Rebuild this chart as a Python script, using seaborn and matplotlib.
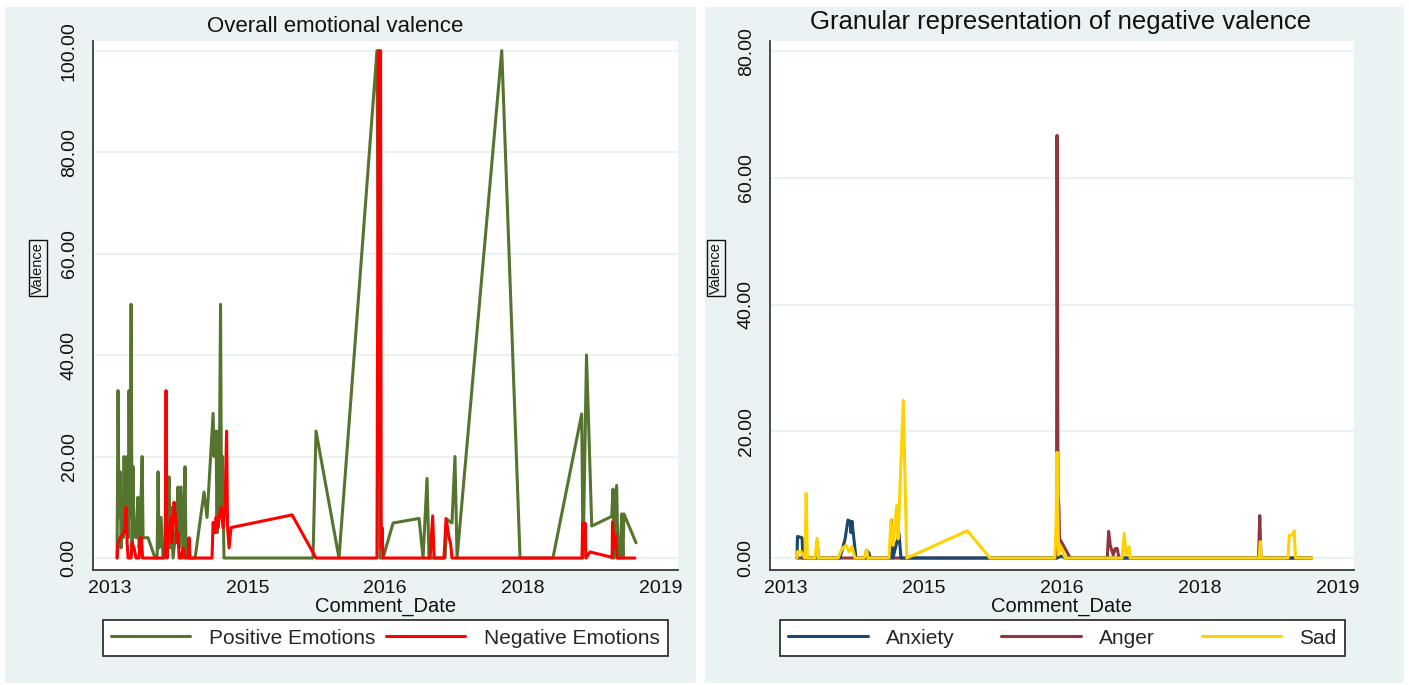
import numpy as np
import pandas as pd
import matplotlib
matplotlib.use("Agg")
import matplotlib.pyplot as plt
import seaborn as sns
from matplotlib.lines import Line2D
from matplotlib.patches import Rectangle

# ---------------- data ----------------
tick_pos = [0, 1, 2, 3, 4]
tick_labels = ["2013", "2015", "2016", "2018", "2019"]

# Left panel: Overall emotional valence
pos_date = [0.051, 0.058, 0.065, 0.073, 0.080, 0.087, 0.094, 0.102, 0.109, 0.124, 0.131, 0.138,
            0.145, 0.153, 0.160, 0.167, 0.174, 0.189, 0.203, 0.211, 0.218, 0.233, 0.240, 0.276,
            0.327, 0.342, 0.349, 0.356, 0.371, 0.385, 0.414, 0.429, 0.436, 0.443, 0.458, 0.480,
            0.494, 0.502, 0.516, 0.531, 0.545, 0.552, 0.574, 0.618, 0.683, 0.705, 0.749, 0.756,
            0.770, 0.778, 0.785, 0.792, 0.803, 0.810, 0.818, 0.828, 1.475, 1.497, 1.664, 1.940,
            1.962, 1.984, 2.057, 2.246, 2.275, 2.304, 2.318, 2.435, 2.449, 2.485, 2.507, 2.522,
            2.847, 2.980, 3.219, 3.428, 3.438, 3.463, 3.501, 3.646, 3.656, 3.663, 3.682, 3.692,
            3.706, 3.719, 3.728, 3.735, 3.823]
pos_val = [0, 33, 8, 17, 2, 9, 4, 20, 6, 20, 4, 33,
           8, 50, 2, 18, 5, 4, 12, 2, 4, 20, 4, 4,
           0, 0, 17, 2, 8, 0, 6, 16, 2, 10, 0, 6,
           14, 2, 14, 0, 18, 1, 0, 0, 13, 8, 28.5, 20,
           25, 5, 25, 8, 50, 10, 20, 0, 0, 25, 0, 100,
           0, 0, 6.9, 7.8, 0, 15.7, 0, 0, 7.6, 6.9, 20, 0,
           100, 0, 0, 28.4, 0, 40, 6.3, 8.2, 13.6, 0, 14.3, 0,
           0, 8.7, 0, 8.7, 3]

neg_date = [0.051, 0.058, 0.073, 0.087, 0.102, 0.116, 0.124, 0.131, 0.153, 0.160, 0.174, 0.189,
            0.211, 0.218, 0.229, 0.236, 0.392, 0.400, 0.407, 0.414, 0.422, 0.436, 0.443, 0.451,
            0.465, 0.472, 0.480, 0.487, 0.494, 0.502, 0.516, 0.531, 0.545, 0.567, 0.574, 0.581,
            0.741, 0.749, 0.763, 0.770, 0.785, 0.792, 0.807, 0.821, 0.836, 0.847, 0.854, 0.865,
            0.879, 1.323, 1.497, 1.940, 1.950, 1.956, 1.966, 1.971, 1.977, 1.984, 2.057, 2.326,
            2.345, 2.355, 2.427, 2.442, 2.464, 2.476, 2.485, 3.430, 3.435, 3.445, 3.452, 3.459,
            3.488, 3.640, 3.649, 3.652, 3.663, 3.677, 3.684, 3.815]
neg_val = [0, 3, 4, 4.5, 5, 10, 3, 0, 0, 3, 2, 0,
           0, 4, 4, 0, 0, 2, 33, 0, 5, 6, 8, 3,
           11, 9, 7, 3, 5, 0, 0, 2, 0, 0, 4, 0,
           0, 7, 5, 8, 6, 8, 10, 6, 10, 25, 6, 2,
           6, 8.5, 0, 0, 100, 17, 100, 2, 6, 0, 0, 0,
           8.3, 0, 0, 7.8, 4, 2.7, 0, 0, 6.9, 2, 6.9, 0,
           1.2, 0.2, 0, 7.1, 2, 4.4, 0, 0]

# Right panel: Granular representation of negative valence
anx_date = [0.080, 0.083, 0.101, 0.116, 0.123, 0.217, 0.225, 0.232, 0.391, 0.428, 0.449, 0.464,
            0.471, 0.478, 0.493, 0.507, 0.572, 0.583, 0.601, 0.609, 0.754, 0.764, 0.775, 0.819,
            0.833, 1.964, 1.993, 2.022, 3.809]
anx_val = [0, 3.4, 3.3, 3.2, 0, 0, 1, 0, 0, 3, 6, 5.8,
           4, 5.8, 2.8, 0, 0, 1.2, 0.8, 0, 0, 6, 0, 3.9,
           0, 0, 0.3, 0, 0]

ang_date = [0.080, 0.217, 0.225, 0.236, 1.960, 1.964, 1.971, 1.978, 1.982, 2.060, 2.328, 2.338,
            2.350, 2.371, 2.386, 2.400, 2.413, 3.424, 3.433, 3.442, 3.809]
ang_val = [0, 0, 2.6, 0, 0, 66.7, 10, 8, 3.1, 0, 0, 4.2,
           2, 0.5, 1.5, 1.5, 0, 0, 6.7, 0, 0]

sad_date = [0.080, 0.083, 0.110, 0.135, 0.138, 0.146, 0.155, 0.210, 0.225, 0.236, 0.377, 0.406,
            0.435, 0.457, 0.478, 0.500, 0.565, 0.585, 0.594, 0.746, 0.761, 0.775, 0.802, 0.812,
            0.850, 0.875, 1.314, 1.478, 1.948, 1.957, 1.964, 1.975, 1.986, 2.000, 2.022, 2.435,
            2.451, 2.464, 2.486, 2.493, 3.428, 3.437, 3.442, 3.638, 3.647, 3.667, 3.683, 3.692,
            3.809]
sad_val = [0, 1, 1, 0, 0, 10.2, 0, 0, 3.1, 0, 0, 1.5,
           2, 1, 1.8, 0, 0, 1.3, 0, 0, 6, 2, 8.3, 3,
           24.9, 0, 4.3, 0, 0, 5, 16.7, 0.5, 2, 1.4, 0, 0,
           3.9, 0.5, 1.8, 0, 0, 2.6, 0, 0, 3.6, 3.6, 4.3, 0,
           0]

left_series = ["Positive Emotions", "Negative Emotions"]
right_series = ["Anxiety", "Anger", "Sad"]
left_colors = ["#55752F", "#FF0000"]
right_colors = ["#1A476F", "#90353B", "#FFD200"]

df_left = pd.concat([
    pd.DataFrame({"date": pos_date, "value": pos_val, "series": left_series[0]}),
    pd.DataFrame({"date": neg_date, "value": neg_val, "series": left_series[1]}),
], ignore_index=True)
df_right = pd.concat([
    pd.DataFrame({"date": anx_date, "value": anx_val, "series": right_series[0]}),
    pd.DataFrame({"date": ang_date, "value": ang_val, "series": right_series[1]}),
    pd.DataFrame({"date": sad_date, "value": sad_val, "series": right_series[2]}),
], ignore_index=True)

# ---------------- style ----------------
sns.set_style("white")
plt.rcParams["font.family"] = ["Liberation Sans", "DejaVu Sans"]

W, H = 1409, 685
fig = plt.figure(figsize=(W / 100, H / 100), dpi=100)
fig.patch.set_facecolor("white")

BG = "#EAF2F3"
AX_COL = "#3a3a3a"
TXT = "#111111"

def px_rect(x0, y0, x1, y1):
    return (x0 / W, 1 - y1 / H, (x1 - x0) / W, (y1 - y0) / H)

# gray panels
for (x0, y0, x1, y1) in [(5, 7, 696, 683), (705, 7, 1404, 683)]:
    l, b, w, h = px_rect(x0, y0, x1, y1)
    fig.patches.append(Rectangle((l, b), w, h, transform=fig.transFigure,
                                 facecolor=BG, edgecolor="none", zorder=-10))

ax1 = fig.add_axes(px_rect(93, 41, 678, 570))
ax2 = fig.add_axes(px_rect(770, 41, 1354, 570))

def style_axis(ax, yticks, ylim):
    ax.set_facecolor("white")
    ax.set_xlim(-0.124, 4.128)
    ax.set_ylim(*ylim)
    ax.set_xticks(tick_pos)
    ax.set_xticklabels(tick_labels)
    ax.set_yticks(yticks)
    ax.set_yticklabels([f"{v:.2f}" for v in yticks], rotation=90, va="center")
    for s in ["top", "right"]:
        ax.spines[s].set_visible(False)
    for s in ["left", "bottom"]:
        ax.spines[s].set_color(AX_COL)
        ax.spines[s].set_linewidth(1.3)
    ax.tick_params(axis="both", direction="out", length=6, width=1.3, color=AX_COL,
                   labelsize=14, labelcolor=TXT)
    ax.tick_params(axis="y", pad=5)
    ax.tick_params(axis="x", pad=1)
    ax.grid(axis="y", color=BG, linewidth=1.5)
    ax.grid(axis="x", visible=False)
    ax.set_axisbelow(True)
    ax.set_xlabel("Comment_Date", fontsize=14.5, labelpad=0, color=TXT)
    ax.set_ylabel("")

sns.lineplot(data=df_left, x="date", y="value", hue="series", hue_order=left_series,
             palette=left_colors, estimator=None, sort=False, linewidth=2.2,
             legend=False, ax=ax1)
# draw Anger first so the Anxiety baseline shows where Sad is above zero
draw_order = ["Anger", "Anxiety", "Sad"]
sns.lineplot(data=df_right, x="date", y="value", hue="series", hue_order=draw_order,
             palette=dict(zip(right_series, right_colors)), estimator=None, sort=False,
             linewidth=2.2, legend=False, ax=ax2)

style_axis(ax1, [0, 20, 40, 60, 80, 100], (-2.36, 101.9))
style_axis(ax2, [0, 20, 40, 60, 80], (-1.89, 81.6))
ax2.set_xlim(-0.116, 4.116)

# titles
fig.text(335 / W, 1 - 27 / H, "Overall emotional valence", ha="center", va="center",
         fontsize=16, color=TXT)
fig.text(1061 / W, 1 - 22 / H, "Granular representation of negative valence", ha="center",
         va="center", fontsize=18.5, color=TXT)

# y labels (boxed)
for xp in [38, 716]:
    fig.text(xp / W, 1 - 268 / H, "Valence", rotation=90, ha="center", va="center",
             fontsize=10.5, color=TXT,
             bbox=dict(boxstyle="square,pad=0.12", facecolor="none", edgecolor=TXT,
                       linewidth=1.0))

# legends
def add_legend(labels, colors, box):
    handles = [Line2D([0], [0], color=c, lw=2.2) for c in colors]
    leg = fig.legend(handles, labels, loc="center", ncol=len(labels), mode="expand",
                     bbox_to_anchor=px_rect(*box), bbox_transform=fig.transFigure,
                     frameon=True, fancybox=False, fontsize=15, handlelength=3.8,
                     handletextpad=0.9, columnspacing=0.2, borderaxespad=0.0,
                     borderpad=0.4)
    fr = leg.get_frame()
    fr.set_edgecolor("#222222")
    fr.set_linewidth(1.2)
    fr.set_facecolor("white")
    fr.set_alpha(1.0)
    return leg

add_legend(left_series, left_colors, (103, 621, 668, 655))
add_legend(right_series, right_colors, (780, 621, 1345, 655))

fig.savefig("out.png", dpi=100, facecolor="white")
